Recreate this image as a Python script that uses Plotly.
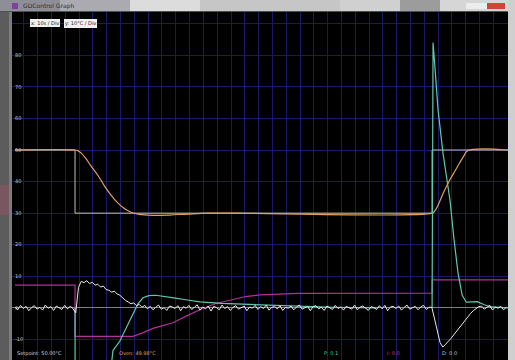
import plotly.graph_objects as go

# ---- data (time in seconds, values in °C / controller units) ----
sp_t = [0, 43.5, 43.5, 302.2, 302.2, 357.2]
sp_v = [50, 50, 30, 30, 50, 50]

oven_t = [0, 43.5, 45.5, 48, 51, 55, 60, 65, 70, 75, 80, 84, 90, 100, 112, 125, 140, 160,
          302.2, 304, 306, 308, 311, 315, 319, 322, 325, 328, 357.2]
oven_v = [50, 50, 49.8, 49, 47.5, 45, 42, 38.5, 35.5, 33, 31.2, 30.3, 29.6, 29.3, 29.4, 29.7, 30, 30,
          30, 30.6, 32, 34, 37, 40.5, 43.5, 45.8, 48, 49.8, 50]

mag_t = [0, 43.5, 43.5, 85.5, 92, 100, 107, 114.5, 124, 134, 145, 158, 167, 177.5, 190, 205,
         302.2, 302.2, 357.2]
mag_v = [7.2, 7.2, -9, -9, -8, -6.5, -5.6, -4.7, -2.6, -0.6, 1.3, 2.8, 3.6, 4.1, 4.4, 4.6,
         4.7, 8.9, 8.9]

teal_t = [43.5, 43.6, 68, 71, 76, 81, 85.5, 89, 92.7, 97, 102, 108, 115, 125, 134, 150, 165, 178,
          200, 230, 262, None,
          302.2, 302.9, 304.3, 306.5, 310.1, 315.2, 318, 321, 324, 327, 331, 335, 340, 345, 357.2]
teal_v = [0, -40, -25, -13.5, -10.5, -6, -1.6, 1.2, 3.2, 3.9, 4.0, 3.7, 3.2, 2.5, 1.9, 1.4, 1.2, 1.0,
          0.6, 0.2, 0, None,
          0, 84, 76, 62.7, 49, 34, 22, 11, 4, 1.8, 1.9, 2.0, 1.0, 0.3, 0]

# white trace sampled every 2 s from t = 0
white_v = [
    # t 0..42
    0.3, -0.6, 0.8, -0.2, 0.5, -0.9, 0.1, 0.7, -0.4, 0.2, -0.7, 0.9, -0.1, 0.4, -0.8, 0.6,
    0.0, -0.5, 0.8, -0.3, 0.5, -0.2,
    # t 44..96
    -1.6, 6.5, 8.4, 8.0, 8.6, 7.7, 8.1, 7.2, 7.5, 6.6, 6.9, 5.8, 5.6, 5.0, 5.3, 4.4, 4.0, 3.1,
    2.4, 1.9, 1.3, 1.6, 0.7, 1.1, 0.2, 0.8, -0.3,
    # t 98..300
    0.5, -0.6, 0.2, 0.9, -0.4, 0.1, -0.8, 0.6, 0.3, -0.2,
    0.7, -0.9, 0.4, -0.1, 0.8, -0.5, 0.2, 1.0, -0.7, 0.3,
    -0.3, 0.6, -1.0, 0.5, 0.1, -0.6, 0.9, -0.2, 0.4, -0.8,
    0.2, 0.7, -0.4, 0.0, 0.6, -0.9, 0.3, -0.1, 0.8, -0.5,
    0.4, -0.2, 0.9, -0.7, 0.1, 0.5, -0.3, 0.7, -0.8, 0.2,
    -0.1, 0.6, -0.6, 0.3, 0.9, -0.4, 0.0, 0.5, -0.9, 0.4,
    0.7, -0.3, 0.2, -0.8, 0.6, 0.1, -0.5, 0.8, -0.2, 0.3,
    -0.7, 0.5, 0.0, -0.4, 0.9, -0.6, 0.2, 0.6, -0.1, -0.8,
    0.4, 0.1, -0.5, 0.7, -0.3, 0.8, -0.9, 0.3, 0.5, -0.2,
    0.6, -0.7, 0.2, 0.9, -0.4, 0.0, 0.5, -0.6, 0.3, 0.8,
    -0.5, 0.2,
    # t 302..336
    0.2, -3.5, -7.5, -11, -12.4, -11.6, -10.6, -9.6, -8.5, -7.2, -6.0, -5.0, -3.8, -2.8,
    -1.8, -0.9, -0.2, 0.4,
    # t 338..356
    0.6, -0.4, 0.2, 0.8, -0.7, 0.3, -0.1, 0.5, -0.6, 0.2,
]
white_t = [2 * i for i in range(len(white_v))]

y_ticks = [-10, 0, 10, 20, 30, 40, 50, 60, 70, 80, 90]
y_tick_text = ["-10", "0", "10", "20", "30", "40", "50", "60", "70", "80", ""]

status = [("Setpoint: 50.00°C", 15, "#d8d8d8"), ("Oven: 49.98°C", 117, "#e0a040"),
          ("P: 0.1", 322, "#50c890"), ("I: 0.0", 385, "#c040a0"), ("D: 0.0", 440, "#c8c8c8")]

W, H = 515, 360
L, R, T, B = 12, 7, 12, 0


def px(x):
    return (x - L) / (W - L - R)


def py(y):
    return (H - B - y) / (H - T - B)


fig = go.Figure()
fig.add_trace(go.Scatter(x=sp_t, y=sp_v, mode="lines", line=dict(color="#c4c0b0", width=1)))
fig.add_trace(go.Scatter(x=oven_t, y=oven_v, mode="lines", line=dict(color="#e0a060", width=1.2),
                         line_shape="spline"))
fig.add_trace(go.Scatter(x=mag_t, y=mag_v, mode="lines", line=dict(color="#b0309a", width=1.2)))
fig.add_trace(go.Scatter(x=teal_t, y=teal_v, mode="lines", line=dict(color="#60c8b0", width=1.2)))
fig.add_trace(go.Scatter(x=white_t, y=white_v, mode="lines", line=dict(color="#e8e8e8", width=1)))

shapes = []


def rect(x0, y0, x1, y1, color):
    shapes.append(dict(type="rect", xref="paper", yref="paper", x0=px(x0), x1=px(x1),
                       y0=py(y1), y1=py(y0), fillcolor=color, line=dict(width=0), layer="above"))


# window chrome
rect(0, 0, 60, 12, "#8e8e98")
rect(60, 0, 130, 12, "#aaaab0")
rect(130, 0, 200, 12, "#dcdcdc")
rect(200, 0, 340, 12, "#c6c6c6")
rect(340, 0, 400, 12, "#d0d0d0")
rect(400, 0, 440, 12, "#9c9c9c")
rect(440, 0, 515, 12, "#d6d6d6")
rect(466, 3, 487, 9, "#ececec")
rect(487, 3, 505, 9, "#d04434")
rect(0, 11, 515, 12, "#505050")
rect(12, 3, 18, 9, "#8040a0")
rect(0, 12, 12, 360, "#5c5c5c")
rect(0, 185, 12, 215, "#7a5660")
rect(9, 12, 12, 360, "#7c7c7c")
rect(508, 0, 515, 360, "#cfcfcf")

annotations = [dict(text="GDControl Graph", x=px(21), y=py(6), xref="paper", yref="paper",
                    xanchor="left", yanchor="middle", showarrow=False,
                    font=dict(size=6, color="#303030", family="DejaVu Sans"))]
for txt, cx in [("x: 10s / Div", 45), ("y: 10°C / Div", 80)]:
    annotations.append(dict(text=txt, x=px(cx), y=py(23), xref="paper", yref="paper",
                            xanchor="center", yanchor="middle", showarrow=False,
                            bgcolor="#f0f0f0", bordercolor="#a0a0a0", borderwidth=0, borderpad=1,
                            font=dict(size=5, color="#202020", family="DejaVu Sans")))
for txt, x0, col in status:
    annotations.append(dict(text=txt, x=px(x0), y=py(353), xref="paper", yref="paper",
                            xanchor="left", yanchor="middle", showarrow=False,
                            font=dict(size=5, color=col, family="DejaVu Sans")))

fig.update_layout(
    width=W, height=H, autosize=False,
    margin=dict(l=L, r=R, t=T, b=B, pad=0),
    paper_bgcolor="#b8b8b8", plot_bgcolor="#000000",
    showlegend=False,
    shapes=shapes, annotations=annotations,
    xaxis=dict(range=[-2.17, 357.2], tick0=6.5, dtick=10, showticklabels=False,
               showgrid=True, gridcolor="#18186c", gridwidth=1, zeroline=False, showline=False,
               ticks=""),
    yaxis=dict(range=[-16.5, 93.7], tickvals=y_ticks, ticktext=y_tick_text,
               ticklabelposition="inside", tickfont=dict(size=5, color="#c8c8c8", family="DejaVu Sans"),
               showgrid=True, gridcolor="#18186c", gridwidth=1,
               zeroline=True, zerolinecolor="#808080", zerolinewidth=1, showline=False, ticks=""),
)

fig.write_html("out.html", config={"displayModeBar": False},
               post_script="document.body.style.margin='0';document.body.style.padding='0';"
                           "document.body.style.overflow='hidden';")
